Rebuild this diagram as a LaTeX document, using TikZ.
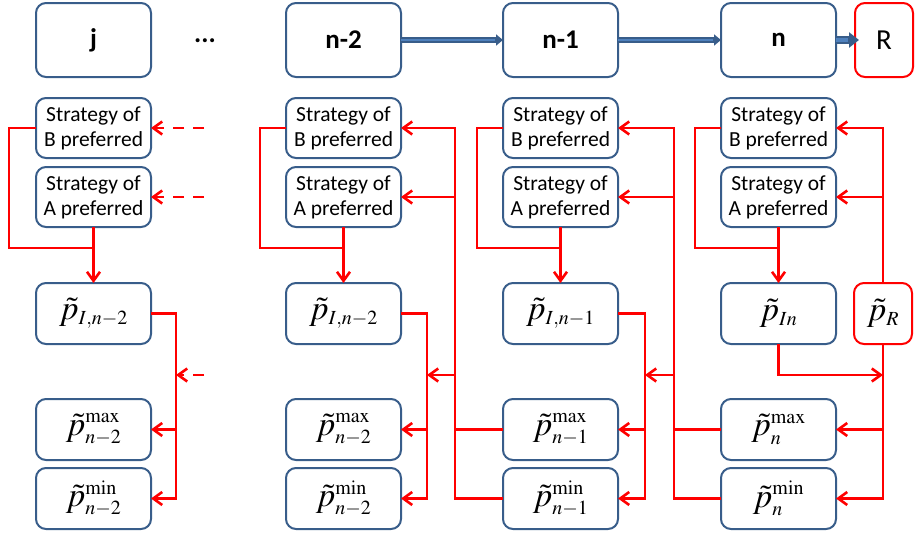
\documentclass[tikz,border=0pt]{standalone}
\usepackage{mathptmx}
\usepackage[no-math]{fontspec}
\setmainfont{Carlito}
\usetikzlibrary{positioning,calc,arrows.meta}
\DeclareMathSizes{34}{34}{20}{15}
\definecolor{boxblue}{RGB}{56,93,138}
\definecolor{fillblue}{RGB}{79,129,189}
\definecolor{linkred}{RGB}{255,0,0}

\begin{document}
\begin{tikzpicture}[x=1pt,y=1pt,
    box/.style={draw=boxblue,line width=2pt,rounded corners=10pt,minimum width=115pt,inner sep=0pt,outer sep=0pt,align=center},
    stage/.style={box,minimum height=74pt,font=\fontsize{27}{32}\selectfont\bfseries},
    strat/.style={box,minimum height=60pt,font=\fontsize{21.5}{25}\selectfont},
    price/.style={box,minimum height=61pt,font=\fontsize{34}{40}\selectfont},
    wire/.style={draw=linkred,line width=2.6pt},
    feed/.style={wire,-{Straight Barb[length=9pt,width=13pt]}},
    dashfeed/.style={feed,dash pattern=on 11pt off 9pt},
    flow/.style={draw=boxblue,line width=6pt,-{Triangle[length=7pt,width=11pt]},
        postaction={draw=fillblue,line width=2.5pt,-,shorten >=8pt}},
    bigflow/.style={draw=boxblue,line width=8pt,-{Triangle[length=10pt,width=15pt]},
        postaction={draw=fillblue,line width=4pt,-,shorten >=11pt}}]
    \useasboundingbox (0,0) rectangle (915,-538);
    \coordinate (hmid) at (0,-375);

    % stages
    \node[stage] (tj) at (93.5,-40) {j};
    \node[font=\fontsize{27}{32}\selectfont\bfseries] (dots) at (205,-41) {...};
    \node[stage] (tn2) at (343.5,-40) {n-2};
    \node[stage] (tn1) at (560.5,-40) {n-1};
    \node[stage] (tn) at (778.5,-40) {n};
    \node[stage,draw=linkred,minimum width=58pt,font=\fontsize{29}{35}\selectfont] (tR) at (884,-40) {R};

    % column j
    \node[strat,below=21pt of tj] (Bj) {Strategy of\\B preferred};
    \node[strat,below=9pt of Bj] (Aj) {Strategy of\\A preferred};
    \node[price,below=56pt of Aj] (pIj) {$\tilde{p}_{I,n-2}$};
    \node[price,below=55pt of pIj] (pmaxj) {$\tilde{p}^{\mathrm{max}}_{n-2}$};
    \node[price,below=8pt of pmaxj] (pminj) {$\tilde{p}^{\mathrm{min}}_{n-2}$};

    % column n-2
    \node[strat,below=21pt of tn2] (Bn2) {Strategy of\\B preferred};
    \node[strat,below=9pt of Bn2] (An2) {Strategy of\\A preferred};
    \node[price,below=56pt of An2] (pIn2) {$\tilde{p}_{I,n-2}$};
    \node[price,below=55pt of pIn2] (pmaxn2) {$\tilde{p}^{\mathrm{max}}_{n-2}$};
    \node[price,below=8pt of pmaxn2] (pminn2) {$\tilde{p}^{\mathrm{min}}_{n-2}$};

    % column n-1
    \node[strat,below=21pt of tn1] (Bn1) {Strategy of\\B preferred};
    \node[strat,below=9pt of Bn1] (An1) {Strategy of\\A preferred};
    \node[price,below=56pt of An1] (pIn1) {$\tilde{p}_{I,n-1}$};
    \node[price,below=55pt of pIn1] (pmaxn1) {$\tilde{p}^{\mathrm{max}}_{n-1}$};
    \node[price,below=8pt of pmaxn1] (pminn1) {$\tilde{p}^{\mathrm{min}}_{n-1}$};

    % column n
    \node[strat,below=21pt of tn] (Bn) {Strategy of\\B preferred};
    \node[strat,below=9pt of Bn] (An) {Strategy of\\A preferred};
    \node[price,below=56pt of An] (pIn) {$\tilde{p}_{In}$};
    \node[price,below=55pt of pIn] (pmaxn) {$\tilde{p}^{\mathrm{max}}_{n}$};
    \node[price,below=8pt of pmaxn] (pminn) {$\tilde{p}^{\mathrm{min}}_{n}$};
    \node[price,draw=linkred,minimum width=58pt] (pR) at (883,-313.5) {$\tilde{p}_{R}$};

    % stage flow
    \draw[flow] (tn2.east) -- (tn1.west);
    \draw[flow] (tn1.east) -- (tn.west);
    \draw[bigflow] (tn.east) -- ([xshift=4pt]tR.west);

    % links of column j
    \draw[wire] (Bj.west) -- ++(-27,0) |- ([yshift=-21pt]Aj.south);
    \draw[feed] (Aj.south) -- (pIj.north);
    \draw[feed] (pIj.east) -- ++(25,0) coordinate (vj) |- (pminj.east);
    \draw[feed] (vj |- pmaxj.east) -- (pmaxj.east);
    \draw[dashfeed] ([xshift=53pt]Bj.east) -- (Bj.east);
    \draw[dashfeed] ([xshift=53pt]Aj.east) -- (Aj.east);
    \draw[dashfeed] ($(vj |- hmid)+(28,0)$) -- (vj |- hmid);

    % links of column n-2
    \draw[wire] (Bn2.west) -- ++(-26,0) |- ([yshift=-21pt]An2.south);
    \draw[feed] (An2.south) -- (pIn2.north);
    \draw[feed] (pIn2.east) -- ++(26,0) coordinate (wn2) |- (pminn2.east);
    \draw[feed] (wn2 |- pmaxn2.east) -- (pmaxn2.east);
    \draw[feed] (pminn1.west) -- ++(-48,0) coordinate (vn2) |- (Bn2.east);
    \draw[wire] (pmaxn1.west) -- (vn2 |- pmaxn1.west);
    \draw[feed] (vn2 |- An2.east) -- (An2.east);
    \draw[feed] (vn2 |- hmid) -- (wn2 |- hmid);

    % links of column n-1
    \draw[wire] (Bn1.west) -- ++(-26,0) |- ([yshift=-21pt]An1.south);
    \draw[feed] (An1.south) -- (pIn1.north);
    \draw[feed] (pIn1.east) -- ++(27,0) coordinate (wn1) |- (pminn1.east);
    \draw[feed] (wn1 |- pmaxn1.east) -- (pmaxn1.east);
    \draw[feed] (pminn.west) -- ++(-47,0) coordinate (vn1) |- (Bn1.east);
    \draw[wire] (pmaxn.west) -- (vn1 |- pmaxn.west);
    \draw[feed] (vn1 |- An1.east) -- (An1.east);
    \draw[feed] (vn1 |- hmid) -- (wn1 |- hmid);

    % links of column n
    \draw[wire] (Bn.west) -- ++(-26,0) |- ([yshift=-21pt]An.south);
    \draw[feed] (An.south) -- (pIn.north);
    \draw[feed] (pR.north) |- (Bn.east);
    \draw[feed] (pR.north |- An.east) -- (An.east);
    \draw[feed] (pR.south) |- (pminn.east);
    \draw[feed] (pR.south |- pmaxn.east) -- (pmaxn.east);
    \draw[feed] (pIn.south) |- (pR.south |- hmid);
\end{tikzpicture}
\end{document}
